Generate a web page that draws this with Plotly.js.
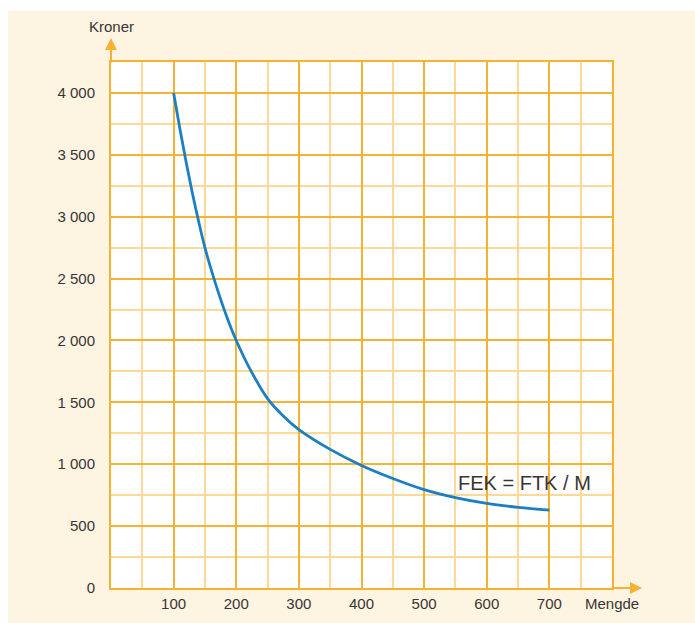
<!DOCTYPE html>
<html>
<head>
<meta charset="utf-8">
<script src="https://cdn.plot.ly/plotly-3.0.1.min.js"></script>
<style>
  html, body { margin: 0; padding: 0; background: #ffffff; }
  #chart { position: absolute; left: 8px; top: 11px; width: 687px; height: 612px; }
</style>
</head>
<body>
<div id="chart"></div>
<script>
// Data
var mengde = [100, 110, 120, 130, 140, 150, 165, 185, 200, 225, 250, 275, 300, 350, 400, 450, 500, 550, 600, 650, 700];
var kroner = [4000, 3710, 3440, 3190, 2960, 2750, 2490, 2190, 2000, 1740, 1530, 1390, 1280, 1120, 990, 885, 795, 730, 683, 652, 630];

var yTickVals = [0, 500, 1000, 1500, 2000, 2500, 3000, 3500, 4000];
var yTickText = ['0', '500', '1 000', '1 500', '2 000', '2 500', '3 000', '3 500', '4 000'];
var xTickVals = [100, 200, 300, 400, 500, 600, 700];
var xTickText = ['100', '200', '300', '400', '500', '600', '700'];

var orange = '#f7b234';
var minorOrange = '#fdd898';
var textColor = '#3a3534';

var trace = {
  x: mengde,
  y: kroner,
  type: 'scatter',
  mode: 'lines',
  line: { color: '#1b7fc2', width: 2.8, shape: 'spline', smoothing: 1 },
  hoverinfo: 'x+y',
  showlegend: false
};

var layout = {
  width: 687,
  height: 612,
  margin: { l: 103, r: 83, t: 51, b: 35, pad: 0 },
  paper_bgcolor: '#fef4e2',
  plot_bgcolor: '#ffffff',
  font: { family: '"Liberation Sans", Arial, sans-serif', size: 15, color: textColor },
  showlegend: false,
  xaxis: {
    range: [0, 800],
    tickvals: xTickVals,
    ticktext: xTickText,
    ticks: 'outside',
    ticklen: 1,
    tickcolor: 'rgba(0,0,0,0)',
    showgrid: true,
    gridcolor: orange,
    gridwidth: 2,
    minor: { dtick: 50, showgrid: true, gridcolor: minorOrange, gridwidth: 2, ticks: '' },
    showline: true,
    linecolor: orange,
    linewidth: 2,
    mirror: true,
    zeroline: false,
    fixedrange: true,
    tickfont: { size: 15, color: textColor }
  },
  yaxis: {
    range: [0, 4250],
    tickvals: yTickVals,
    ticktext: yTickText,
    ticks: 'outside',
    ticklen: 11,
    tickcolor: 'rgba(0,0,0,0)',
    showgrid: true,
    gridcolor: orange,
    gridwidth: 2,
    minor: { tickvals: [250, 750, 1250, 1750, 2250, 2750, 3250, 3750, 4250], showgrid: true, gridcolor: minorOrange, gridwidth: 2, ticks: '' },
    showline: true,
    linecolor: orange,
    linewidth: 2,
    mirror: true,
    zeroline: false,
    fixedrange: true,
    tickfont: { size: 15, color: textColor }
  },
  annotations: [
    {
      xref: 'paper', yref: 'paper', x: 0, y: 1 + 24 / 526,
      ax: 0, ay: 26, axref: 'pixel', ayref: 'pixel',
      showarrow: true, arrowhead: 2, arrowsize: 1.2, arrowwidth: 2, arrowcolor: orange,
      text: ''
    },
    {
      xref: 'paper', yref: 'paper', x: 1 + 30 / 501, y: 0,
      ax: -32, ay: 0, axref: 'pixel', ayref: 'pixel',
      showarrow: true, arrowhead: 2, arrowsize: 1.2, arrowwidth: 2, arrowcolor: orange,
      text: ''
    },
    {
      xref: 'paper', yref: 'paper', x: 0, y: 1 + 35 / 526,
      xanchor: 'center', yanchor: 'middle',
      text: 'Kroner', showarrow: false,
      font: { size: 15, color: textColor }
    },
    {
      xref: 'x', yref: 'paper', x: 800, y: 0, yshift: -5,
      xanchor: 'center', yanchor: 'top',
      text: 'Mengde', showarrow: false,
      font: { size: 15, color: textColor }
    },
    {
      xref: 'x', yref: 'y', x: 551, y: 848,
      xanchor: 'left', yanchor: 'middle',
      text: 'FEK = FTK / M', showarrow: false,
      font: { size: 20, color: textColor }
    }
  ]
};

Plotly.newPlot('chart', [trace], layout, { displayModeBar: false, staticPlot: true });
</script>
</body>
</html>
